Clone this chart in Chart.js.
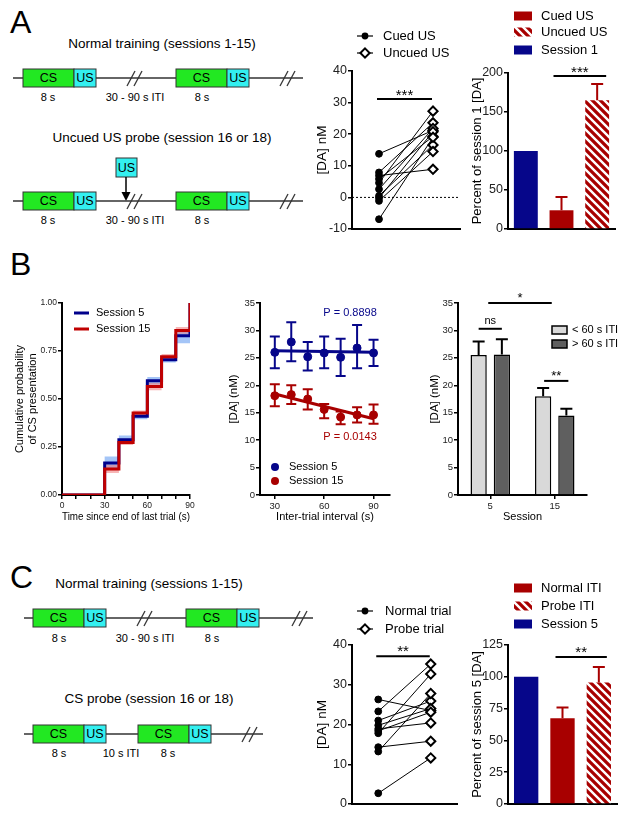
<!DOCTYPE html>
<html>
<head>
<meta charset="utf-8">
<script src="https://cdn.jsdelivr.net/npm/chart.js@4.4.0/dist/chart.umd.min.js"></script>
<style>
html, body { margin: 0; padding: 0; background: #fff; }
#page { position: relative; width: 629px; height: 820px; overflow: hidden; font-family: "Liberation Sans", Arial, sans-serif; }
#page canvas, #page svg { position: absolute; left: 0; top: 0; }
.panel { position: absolute; font-size: 32px; line-height: 1; color: #000; }
</style>
</head>
<body>
<div id="page">
  <svg id="schem" width="629" height="820"></svg>
  <div class="panel" style="left:10px;top:6px">A</div>
  <div class="panel" style="left:10px;top:248px">B</div>
  <div class="panel" style="left:10px;top:561px">C</div>
  <canvas id="aPair" width="629" height="820"></canvas>
  <canvas id="aBars" width="629" height="820"></canvas>
  <canvas id="bCum" width="629" height="820"></canvas>
  <canvas id="bIti" width="629" height="820"></canvas>
  <canvas id="bBars" width="629" height="820"></canvas>
  <canvas id="cPair" width="629" height="820"></canvas>
  <canvas id="cBars" width="629" height="820"></canvas>
</div>
<script>
// ---- panel A data
const aPairCats = ["Cued US", "Uncued US"];
const cuedUS = [13.8, 7.9, 6.9, 5.8, 4.6, 2.6, 0.5, -0.2, -1.1, -6.9];
const uncuedUS = [21.2, 23.6, 8.9, 19.3, 27.3, 21.8, 16.6, 20.8, 14.5, 19.0];
const aPairTicks = [-10, 0, 10, 20, 30, 40];
const aBarCats = ["Session 1", "Cued US", "Uncued US"];
const aBarVals = [100, 24, 165];
const aBarErr = [0, 17, 21];
const aBarTicks = [0, 50, 100, 150, 200];

// ---- panel B data
const itiSteps = [0, 30, 40, 50, 60, 70, 80, 90];
const cum5 = [0, 0.167, 0.288, 0.41, 0.595, 0.705, 0.83, 1.0];
const cum5Lo = [0, 0.14, 0.27, 0.395, 0.575, 0.69, 0.79, 1.0];
const cum5Hi = [0, 0.20, 0.31, 0.425, 0.615, 0.72, 0.86, 1.0];
const cum15 = [0, 0.135, 0.274, 0.427, 0.565, 0.72, 0.857, 1.0];
const cum15Lo = [0, 0.115, 0.26, 0.415, 0.545, 0.70, 0.84, 1.0];
const cum15Hi = [0, 0.158, 0.29, 0.44, 0.585, 0.735, 0.875, 1.0];
const cumXTicks = [0, 10, 20, 30, 40, 50, 60, 70, 80, 90];
const cumYTicks = [0, 0.25, 0.5, 0.75, 1];

const itiX = [30, 40, 50, 60, 70, 80, 90];
const da5 = [26.0, 27.9, 25.2, 25.9, 25.1, 26.8, 25.9];
const da5Lo = [23.1, 24.4, 22.7, 23.1, 21.7, 23.1, 23.5];
const da5Hi = [28.9, 31.5, 27.9, 28.9, 28.5, 31.0, 28.3];
const da15 = [18.1, 18.3, 17.5, 15.6, 14.2, 14.6, 14.6];
const da15Lo = [16.2, 16.6, 15.6, 14.0, 12.9, 13.2, 13.0];
const da15Hi = [20.2, 20.0, 19.3, 16.6, 15.2, 16.0, 16.5];
const fitX = [30, 90];
const fit5 = [26.3, 26.0];
const fit15 = [18.4, 13.9];
const itiTicks = [30, 60, 90];
const daTicks = [0, 5, 10, 15, 20, 25, 30, 35];

const sessionCats = ["5", "15"];
const shortIti = [25.5, 18.0];
const shortItiErr = [2.5, 1.5];
const longIti = [25.6, 14.5];
const longItiErr = [2.8, 1.2];

// ---- panel C data
const cPairCats = ["Normal trial", "Probe trial"];
const normalTrial = [26.3, 23.3, 21.0, 19.8, 18.9, 18.4, 17.8, 14.3, 13.2, 2.7];
const probeTrial = [23.5, 35.2, 25.9, 24.0, 20.4, 23.1, 32.7, 15.8, 27.8, 11.6];
const cPairTicks = [0, 10, 20, 30, 40];
const cBarCats = ["Session 5", "Normal ITI", "Probe ITI"];
const cBarVals = [100, 67.5, 95.6];
const cBarErr = [0, 8.4, 12.1];
const cBarTicks = [0, 25, 50, 75, 100, 125];

const W = 629, H = 820;
const FONT = '"Liberation Sans", Arial, sans-serif';
const NAVY = "#06068a";
const RED = "#a80000";
const LINE_RED = "#c00000";

Chart.defaults.font.family = FONT;
Chart.defaults.color = "#000";
Chart.defaults.animation = false;
Chart.defaults.events = [];
Chart.defaults.plugins.legend.display = false;
Chart.defaults.plugins.tooltip.enabled = false;

// ---- schematics
const svg = document.getElementById("schem");
function el(tag, attrs, text) {
    const e = document.createElementNS("http://www.w3.org/2000/svg", tag);
    for (const k in attrs) e.setAttribute(k, attrs[k]);
    if (text) e.textContent = text;
    svg.appendChild(e);
    return e;
}
function label(x, y, text, size) {
    el("text", { x: x, y: y, "font-size": size, "text-anchor": "middle", "dominant-baseline": "central", "font-family": FONT, fill: "#000" }, text);
}
function timeline(y, x0, x1, trials, breaks) {
    el("line", { x1: x0, y1: y, x2: x1, y2: y, stroke: "#333", "stroke-width": 1.3 });
    breaks.forEach(b => {
        [0, 7].forEach(d => el("line", { x1: b - 8 + d, y1: y + 8, x2: b + d, y2: y - 7, stroke: "#333", "stroke-width": 1.3 }));
    });
    trials.forEach(t => {
        el("rect", { x: t, y: y - 9, width: 51, height: 18, fill: "#22e822", stroke: "#333", "stroke-width": 1 });
        el("rect", { x: t + 51, y: y - 9, width: 22, height: 18, fill: "#33f0f0", stroke: "#333", "stroke-width": 1 });
        label(t + 25.5, y, "CS", 12.5);
        label(t + 62, y, "US", 12.5);
    });
}

label(162, 43, "Normal training (sessions 1-15)", 13.5);
timeline(78, 13, 303, [23, 176], [135, 288]);
label(48, 97, "8 s", 11); label(135, 97, "30 - 90 s ITI", 11); label(202, 97, "8 s", 11);

label(162, 137, "Uncued US probe (session 16 or 18)", 13.5);
el("rect", { x: 116, y: 158, width: 21, height: 19, fill: "#33f0f0", stroke: "#333", "stroke-width": 1 });
label(126.5, 167.5, "US", 12.5);
el("line", { x1: 126, y1: 177, x2: 126, y2: 194, stroke: "#000", "stroke-width": 1.5 });
el("polygon", { points: "121.5,192 130.5,192 126,201", fill: "#000" });
timeline(201, 13, 303, [23, 176], [135, 288]);
label(48, 220, "8 s", 11); label(135, 220, "30 - 90 s ITI", 11); label(202, 220, "8 s", 11);

label(149, 583, "Normal training (sessions 1-15)", 13.5);
timeline(618, 24, 313, [33, 186], [145, 300]);
label(59, 638, "8 s", 11); label(145, 638, "30 - 90 s ITI", 11); label(212, 638, "8 s", 11);

label(149, 698, "CS probe (session 16 or 18)", 13.5);
timeline(734, 24, 263, [33, 138], [250]);
label(59, 753, "8 s", 11); label(121, 753, "10 s ITI", 11); label(168, 753, "8 s", 11);

// ---- helpers
function hatch(color) {
    const c = document.createElement("canvas");
    c.width = 8; c.height = 8;
    const g = c.getContext("2d");
    g.fillStyle = color;
    g.fillRect(0, 0, 8, 8);
    g.strokeStyle = "#fff";
    g.lineWidth = 2.4;
    g.beginPath();
    g.moveTo(-4, 4); g.lineTo(4, 12);
    g.moveTo(0, 0); g.lineTo(8, 8);
    g.moveTo(4, -4); g.lineTo(12, 4);
    g.stroke();
    return g.createPattern(c, "repeat");
}
const RED_HATCH = hatch(RED);

function frame(l, t, r, b, yw, xh) {
    return { padding: { left: l - yw, top: t, right: W - r, bottom: H - b - xh } };
}

function yAxis(ticks, size, yw, title, titleSize, titlePad, fmt) {
    return {
        min: ticks[0], max: ticks[ticks.length - 1],
        afterBuildTicks: s => { s.ticks = ticks.map(v => ({ value: v })); },
        afterFit: s => { s.width = yw; },
        grid: { display: true, drawOnChartArea: false, drawTicks: true, tickLength: 4, lineWidth: 1.5, color: "#000" },
        border: { display: true, width: 2, color: "#000" },
        ticks: { font: { size: size }, color: "#222", padding: 1, callback: fmt || (v => v) },
        title: { display: true, text: title, font: { size: titleSize }, color: "#000", padding: { top: titlePad, bottom: 0 } }
    };
}

function flatX(labels) {
    return {
        type: "category", labels: labels, offset: true,
        afterFit: s => { s.height = 2; },
        grid: { display: false },
        ticks: { display: false },
        border: { display: true, width: 2, color: "#000" }
    };
}

function numX(min, max, ticks, size, title, fmt) {
    return {
        type: "linear", min: min, max: max,
        afterBuildTicks: s => { s.ticks = ticks.map(v => ({ value: v })); },
        afterFit: s => { s.height = 29; },
        grid: { display: true, drawOnChartArea: false, drawTicks: true, tickLength: 4, lineWidth: 1.5, color: "#000" },
        border: { display: true, width: 2, color: "#000" },
        ticks: { font: { size: size }, color: "#222", padding: 2, maxRotation: 0, autoSkip: false, callback: fmt || (v => v) },
        title: { display: true, text: title, font: { size: 11 }, color: "#000", padding: { top: 0, bottom: 0 } }
    };
}

const errorBars = {
    id: "errorBars",
    afterDatasetsDraw(chart) {
        const ctx = chart.ctx, sy = chart.scales.y;
        chart.data.datasets.forEach((ds, di) => {
            if (!ds.errHi) return;
            const meta = chart.getDatasetMeta(di);
            meta.data.forEach((pt, i) => {
                const yTop = sy.getPixelForValue(ds.errHi[i]);
                const yBot = ds.errLo ? sy.getPixelForValue(ds.errLo[i]) : pt.y;
                if (Math.abs(yTop - yBot) < 1) return;
                const cap = (ds.capW || 12) / 2;
                ctx.save();
                ctx.strokeStyle = Array.isArray(ds.errColor) ? ds.errColor[i] : (ds.errColor || "#000");
                ctx.lineWidth = 2;
                ctx.beginPath();
                ctx.moveTo(pt.x, yBot); ctx.lineTo(pt.x, yTop);
                ctx.moveTo(pt.x - cap, yTop); ctx.lineTo(pt.x + cap, yTop);
                if (ds.errLo) { ctx.moveTo(pt.x - cap, yBot); ctx.lineTo(pt.x + cap, yBot); }
                ctx.stroke();
                ctx.restore();
            });
        });
    }
};

const marks = {
    id: "marks",
    beforeDatasetsDraw(chart, args, o) {
        if (o.zero === undefined) return;
        const ctx = chart.ctx, a = chart.chartArea;
        const y = chart.scales.y.getPixelForValue(o.zero);
        ctx.save();
        ctx.setLineDash([2, 2]);
        ctx.lineWidth = 1;
        ctx.strokeStyle = "#000";
        ctx.beginPath(); ctx.moveTo(a.left, y); ctx.lineTo(a.right, y); ctx.stroke();
        ctx.restore();
    },
    afterDraw(chart, args, o) {
        const ctx = chart.ctx, sx = chart.scales.x, sy = chart.scales.y;
        const px = r => (r.ds !== undefined ? chart.getDatasetMeta(r.ds).data[r.i].x : sx.getPixelForValue(r.v)) + (r.dx || 0);
        ctx.save();
        (o.lines || []).forEach(m => {
            const x1 = px(m.from), x2 = px(m.to), y = sy.getPixelForValue(m.y);
            ctx.strokeStyle = "#000"; ctx.lineWidth = 2;
            ctx.beginPath(); ctx.moveTo(x1, y); ctx.lineTo(x2, y); ctx.stroke();
            ctx.font = m.size + "px " + FONT;
            ctx.fillStyle = "#000"; ctx.textAlign = "center"; ctx.textBaseline = "alphabetic";
            ctx.fillText(m.text, (x1 + x2) / 2, y - m.dy);
        });
        (o.texts || []).forEach(t => {
            ctx.font = t.size + "px " + FONT;
            ctx.fillStyle = t.color; ctx.textAlign = "center"; ctx.textBaseline = "middle";
            ctx.fillText(t.text, sx.getPixelForValue(t.x), sy.getPixelForValue(t.y));
        });
        (o.keys || []).forEach(k => {
            ctx.lineWidth = 1.2; ctx.strokeStyle = "#000";
            if (k.mark === "lineDot" || k.mark === "lineDiamond") {
                ctx.beginPath(); ctx.moveTo(k.x, k.y); ctx.lineTo(k.x + 16, k.y); ctx.stroke();
                const cx = k.x + 8;
                if (k.mark === "lineDot") {
                    ctx.fillStyle = "#000";
                    ctx.beginPath(); ctx.arc(cx, k.y, 3.4, 0, Math.PI * 2); ctx.fill();
                } else {
                    ctx.fillStyle = "#fff"; ctx.lineWidth = 2;
                    ctx.beginPath();
                    ctx.moveTo(cx, k.y - 4.6); ctx.lineTo(cx + 4.6, k.y); ctx.lineTo(cx, k.y + 4.6); ctx.lineTo(cx - 4.6, k.y);
                    ctx.closePath(); ctx.fill(); ctx.stroke();
                }
            } else if (k.mark === "box") {
                ctx.fillStyle = k.fill;
                ctx.fillRect(k.x, k.y - k.h / 2, k.w, k.h);
                if (k.stroke) { ctx.lineWidth = 1.5; ctx.strokeRect(k.x, k.y - k.h / 2, k.w, k.h); }
            } else if (k.mark === "line") {
                ctx.strokeStyle = k.color; ctx.lineWidth = 3;
                ctx.beginPath(); ctx.moveTo(k.x, k.y); ctx.lineTo(k.x + 15, k.y); ctx.stroke();
            } else if (k.mark === "dot") {
                ctx.fillStyle = k.color;
                ctx.beginPath(); ctx.arc(k.x, k.y, 4, 0, Math.PI * 2); ctx.fill();
            }
            ctx.font = o.keySize + "px " + FONT;
            ctx.fillStyle = "#000"; ctx.textAlign = "left"; ctx.textBaseline = "middle";
            ctx.fillText(k.text, k.tx, k.y);
        });
        ctx.restore();
    }
};

function pairDatasets(cats, a, b) {
    const links = a.map((v, i) => ({
        data: [{ x: cats[0], y: v }, { x: cats[1], y: b[i] }],
        borderColor: "#000", borderWidth: 1, pointRadius: 0, order: 5
    }));
    links.push({
        data: a.map(v => ({ x: cats[0], y: v })), showLine: false,
        pointStyle: "circle", pointRadius: 3.4, pointBackgroundColor: "#000", pointBorderColor: "#000", pointBorderWidth: 1, order: 0
    });
    links.push({
        data: b.map(v => ({ x: cats[1], y: v })), showLine: false,
        pointStyle: "rectRot", pointRadius: 4.6, pointBackgroundColor: "#fff", pointBorderColor: "#000", pointBorderWidth: 2, order: 0
    });
    return links;
}

function pairChart(id, cats, a, b, ticks, area, sig, keys) {
    return new Chart(document.getElementById(id), {
        type: "line",
        data: { labels: cats, datasets: pairDatasets(cats, a, b) },
        options: {
            responsive: false,
            layout: frame(area[0], area[1], area[2], area[3], 40, 2),
            scales: { x: flatX(cats), y: yAxis(ticks, 12.5, 40, "[DA] nM", 13.5, 2) },
            plugins: { marks: { zero: ticks[0] < 0 ? 0 : undefined, lines: [sig], keys: keys, keySize: 13 } }
        },
        plugins: [marks]
    });
}

function pctChart(id, cats, vals, errs, ticks, area, title, sig, keys) {
    return new Chart(document.getElementById(id), {
        type: "bar",
        data: {
            labels: cats,
            datasets: [{
                data: vals,
                backgroundColor: [NAVY, RED, RED_HATCH],
                borderWidth: 0,
                categoryPercentage: 1, barPercentage: 0.67,
                errHi: vals.map((v, i) => v + errs[i]),
                errColor: RED, capW: 12
            }]
        },
        options: {
            responsive: false,
            layout: frame(area[0], area[1], area[2], area[3], 40, 2),
            scales: { x: flatX(cats), y: yAxis(ticks, 12.5, 40, title, 13, 1.5) },
            plugins: { marks: { lines: [sig], keys: keys, keySize: 13 } }
        },
        plugins: [errorBars, marks]
    });
}

// ---- panel A
pairChart("aPair", aPairCats, cuedUS, uncuedUS, aPairTicks, [352, 71, 460, 229],
    { from: { v: 0, dx: -2 }, to: { v: 1, dx: -1 }, y: 31.1, text: "***", size: 15, dy: -1 },
    [
        { mark: "lineDot", x: 357, y: 36, tx: 383, text: "Cued US" },
        { mark: "lineDiamond", x: 357, y: 53, tx: 383, text: "Uncued US" }
    ]);

pctChart("aBars", aBarCats, aBarVals, aBarErr, aBarTicks, [508, 73, 615, 229], "Percent of session 1 [DA]",
    { from: { v: 1, dx: -8 }, to: { v: 2, dx: 9 }, y: 196, text: "***", size: 15, dy: -1 },
    [
        { mark: "box", x: 514, y: 16, w: 18, h: 9, fill: RED, tx: 541, text: "Cued US" },
        { mark: "box", x: 514, y: 32, w: 18, h: 9, fill: RED_HATCH, tx: 541, text: "Uncued US" },
        { mark: "box", x: 514, y: 50, w: 18, h: 9, fill: NAVY, tx: 541, text: "Session 1" }
    ]);

// ---- panel B: cumulative probability
const pts = (xs, ys) => xs.map((x, i) => ({ x: x, y: ys[i] }));
const band = (ys, fill, color, order) => ({
    data: pts(itiSteps, ys), stepped: true, fill: fill, backgroundColor: color,
    borderColor: "rgba(0,0,0,0)", borderWidth: 0, pointRadius: 0, order: order
});

new Chart(document.getElementById("bCum"), {
    type: "line",
    data: {
        datasets: [
            band(cum5Hi, "+1", "rgba(90,150,240,0.55)", 3),
            band(cum5Lo, false, "rgba(0,0,0,0)", 3),
            band(cum15Hi, "+1", "rgba(240,110,110,0.5)", 2),
            band(cum15Lo, false, "rgba(0,0,0,0)", 2),
            { data: pts(itiSteps, cum5), stepped: true, borderColor: "#00008b", borderWidth: 3, pointRadius: 0, fill: false, order: 1 },
            { data: pts(itiSteps, cum15), stepped: true, borderColor: LINE_RED, borderWidth: 3, pointRadius: 0, fill: false, order: 0 }
        ]
    },
    options: {
        responsive: false,
        layout: frame(62, 303, 190, 495, 54, 29),
        scales: {
            x: numX(0, 90, cumXTicks, 8.5, "Time since end of last trial (s)", v => (v % 30 === 0 ? v : "")),
            y: yAxis(cumYTicks, 8.5, 54, ["Cumulative probability", "of CS presentation"], 11, 5.4, v => v.toFixed(2))
        },
        plugins: {
            marks: {
                keySize: 11,
                keys: [
                    { mark: "line", x: 74, y: 313, color: "#00008b", tx: 96, text: "Session 5" },
                    { mark: "line", x: 74, y: 329, color: LINE_RED, tx: 96, text: "Session 15" }
                ]
            }
        }
    },
    plugins: [marks]
});

// ---- panel B: [DA] vs inter-trial interval
new Chart(document.getElementById("bIti"), {
    type: "scatter",
    data: {
        datasets: [
            { data: pts(fitX, fit5), showLine: true, borderColor: NAVY, borderWidth: 3, pointRadius: 0, order: 2 },
            { data: pts(fitX, fit15), showLine: true, borderColor: RED, borderWidth: 3, pointRadius: 0, order: 2 },
            { data: pts(itiX, da5), pointRadius: 4, backgroundColor: NAVY, borderColor: NAVY, errLo: da5Lo, errHi: da5Hi, errColor: NAVY, capW: 10, order: 0 },
            { data: pts(itiX, da15), pointRadius: 4, backgroundColor: RED, borderColor: RED, errLo: da15Lo, errHi: da15Hi, errColor: RED, capW: 10, order: 0 }
        ]
    },
    options: {
        responsive: false,
        layout: frame(260, 303, 390, 495, 40, 29),
        scales: {
            x: numX(21, 100, itiTicks, 9.5, "Inter-trial interval (s)"),
            y: yAxis(daTicks, 9.5, 40, "[DA] (nM)", 11.5, 7)
        },
        plugins: {
            marks: {
                texts: [
                    { x: 75.7, y: 33.2, text: "P = 0.8898", color: NAVY, size: 11 },
                    { x: 75.7, y: 10.6, text: "P = 0.0143", color: RED, size: 11 }
                ],
                keySize: 11,
                keys: [
                    { mark: "dot", x: 275, y: 467, color: NAVY, tx: 289, text: "Session 5" },
                    { mark: "dot", x: 275, y: 481, color: RED, tx: 289, text: "Session 15" }
                ]
            }
        }
    },
    plugins: [errorBars, marks]
});

// ---- panel B: ITI length by session
new Chart(document.getElementById("bBars"), {
    type: "bar",
    data: {
        labels: sessionCats,
        datasets: [
            { data: shortIti, backgroundColor: "#d9d9d9", borderColor: "#000", borderWidth: 1.5,
              errHi: shortIti.map((v, i) => v + shortItiErr[i]), capW: 12 },
            { data: longIti, backgroundColor: "#5f5f5f", borderColor: "#000", borderWidth: 1.5,
              errHi: longIti.map((v, i) => v + longItiErr[i]), capW: 12 }
        ]
    },
    options: {
        responsive: false,
        categoryPercentage: 0.72, barPercentage: 0.7,
        layout: frame(458, 303, 587, 495, 40, 29),
        scales: {
            x: {
                type: "category", offset: true,
                afterFit: s => { s.height = 29; },
                grid: { display: true, drawOnChartArea: false, offset: false, tickLength: 4, lineWidth: 1.5, color: "#000" },
                border: { display: true, width: 2, color: "#000" },
                ticks: { font: { size: 9.5 }, color: "#222", padding: 2 },
                title: { display: true, text: "Session", font: { size: 11 }, color: "#000", padding: 0 }
            },
            y: yAxis(daTicks, 9.5, 40, "[DA] (nM)", 11.5, 10)
        },
        plugins: {
            marks: {
                lines: [
                    { from: { v: 0, dx: -2 }, to: { v: 1, dx: -3 }, y: 35, text: "*", size: 13, dy: 1 },
                    { from: { ds: 0, i: 0 }, to: { ds: 1, i: 0 }, y: 30.3, text: "ns", size: 11, dy: 5 },
                    { from: { ds: 0, i: 1, dx: 1 }, to: { ds: 1, i: 1, dx: 2 }, y: 20.8, text: "**", size: 13, dy: 1 }
                ],
                keySize: 11,
                keys: [
                    { mark: "box", x: 552, y: 330, w: 15, h: 8, fill: "#d9d9d9", stroke: true, tx: 572, text: "< 60 s ITI" },
                    { mark: "box", x: 552, y: 344, w: 15, h: 8, fill: "#5f5f5f", stroke: true, tx: 572, text: "> 60 s ITI" }
                ]
            }
        }
    },
    plugins: [errorBars, marks]
});

// ---- panel C
pairChart("cPair", cPairCats, normalTrial, probeTrial, cPairTicks, [352, 645, 457, 804],
    { from: { v: 0, dx: -2 }, to: { v: 1, dx: -1 }, y: 37.2, text: "**", size: 15, dy: 0 },
    [
        { mark: "lineDot", x: 357, y: 611, tx: 385, text: "Normal trial" },
        { mark: "lineDiamond", x: 357, y: 629, tx: 385, text: "Probe trial" }
    ]);

pctChart("cBars", cBarCats, cBarVals, cBarErr, cBarTicks, [508, 645, 617, 804], "Percent of session 5 [DA]",
    { from: { v: 1, dx: -7 }, to: { v: 2, dx: 8 }, y: 115.6, text: "**", size: 15, dy: 0 },
    [
        { mark: "box", x: 514, y: 588, w: 18, h: 9, fill: RED, tx: 541, text: "Normal ITI" },
        { mark: "box", x: 514, y: 606, w: 18, h: 9, fill: RED_HATCH, tx: 541, text: "Probe ITI" },
        { mark: "box", x: 514, y: 624, w: 18, h: 9, fill: NAVY, tx: 541, text: "Session 5" }
    ]);
</script>
</body>
</html>
